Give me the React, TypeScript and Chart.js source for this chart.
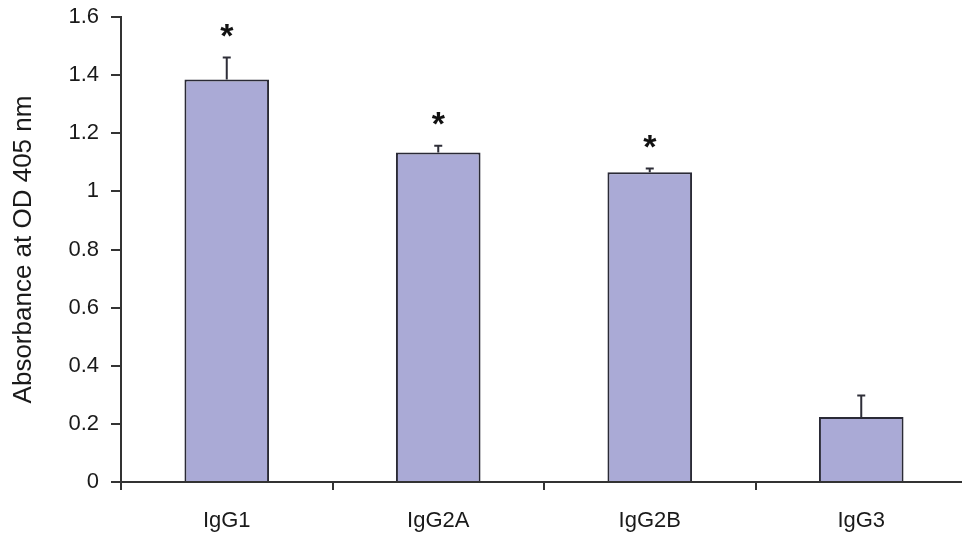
import React, { useEffect, useRef } from "react";
import { Chart, registerables } from "chart.js";

Chart.register(...registerables);

const categories = ["IgG1", "IgG2A", "IgG2B", "IgG3"];
const means = [1.385, 1.134, 1.066, 0.224];
const errors = [0.076, 0.023, 0.013, 0.074];
const marks = ["*", "*", "*", ""];
const yAxisTitle = "Absorbance at OD 405 nm";

const FONT = "'Liberation Sans', Arial, Helvetica, sans-serif";

const errorPlugin = {
  id: "errorBarsAndMarks",
  afterDatasetsDraw(chart: any) {
    const ctx = chart.ctx;
    const xs = chart.scales.x;
    const ys = chart.scales.y;
    ctx.save();
    means.forEach((m, i) => {
      const cx = xs.getPixelForValue(i);
      const yTop = ys.getPixelForValue(m);
      const yErr = ys.getPixelForValue(m + errors[i]);
      ctx.strokeStyle = "#2e2e38";
      ctx.lineWidth = 2;
      ctx.beginPath();
      ctx.moveTo(cx, yTop);
      ctx.lineTo(cx, yErr);
      ctx.moveTo(cx - 4, yErr);
      ctx.lineTo(cx + 4, yErr);
      ctx.stroke();
      if (marks[i]) {
        ctx.font = `bold 34px ${FONT}`;
        ctx.fillStyle = "#111";
        ctx.textAlign = "center";
        ctx.textBaseline = "alphabetic";
        const mt = ctx.measureText(marks[i]);
        const asc = mt.actualBoundingBoxAscent;
        const desc = mt.actualBoundingBoxDescent;
        const centerY = yErr - 27;
        const baseline = centerY + (asc - desc) / 2;
        ctx.fillText(marks[i], cx, baseline);
      }
    });
    ctx.restore();
  },
};

export default function App() {
  const ref = useRef<HTMLCanvasElement>(null);
  useEffect(() => {
    document.body.style.margin = "0";
    document.body.style.overflow = "hidden";
    document.documentElement.style.overflow = "hidden";
    const chart = new Chart(ref.current as HTMLCanvasElement, {
      type: "bar",
      data: {
        labels: categories,
        datasets: [
          {
            data: means,
            backgroundColor: "#aaaad6",
            borderColor: "#2a2a36",
            borderWidth: 2,
            barPercentage: 0.4,
            categoryPercentage: 1,
          },
        ],
      },
      options: {
        animation: false,
        responsive: false,
        layout: { padding: { left: 4, top: 17, right: 1, bottom: 0 } },
        plugins: {
          legend: { display: false },
          tooltip: { enabled: false },
        },
        scales: {
          x: {
            afterFit: (s: any) => {
              s.height = 52;
            },
            grid: {
              display: true,
              drawOnChartArea: false,
              drawTicks: true,
              tickLength: 8,
              color: "#333",
              lineWidth: 2,
              offset: true,
            },
            border: { display: true, color: "#333", width: 2 },
            ticks: {
              color: "#1a1a1a",
              font: { family: FONT, size: 22 },
              padding: 18,
            },
          },
          y: {
            min: 0,
            max: 1.6,
            afterFit: (s: any) => {
              s.width = 117;
              s.paddingTop = 0;
              s.paddingBottom = 0;
            },
            grid: {
              display: true,
              drawOnChartArea: false,
              drawTicks: true,
              tickLength: 10,
              color: "#333",
              lineWidth: 2,
            },
            border: { display: true, color: "#333", width: 2 },
            ticks: {
              stepSize: 0.2,
              color: "#1a1a1a",
              font: { family: FONT, size: 22 },
              padding: 12,
              callback: (v: any) => String(Number(Number(v).toFixed(1))),
            },
            title: {
              display: true,
              text: yAxisTitle,
              color: "#1a1a1a",
              font: { family: FONT, size: 26 },
              padding: { top: 4, bottom: 4 },
            },
          },
        },
      },
      plugins: [errorPlugin],
    });
    return () => chart.destroy();
  }, []);
  return (
    <div style={{ width: 968, height: 534 }}>
      <canvas ref={ref} width={968} height={534} />
    </div>
  );
}
